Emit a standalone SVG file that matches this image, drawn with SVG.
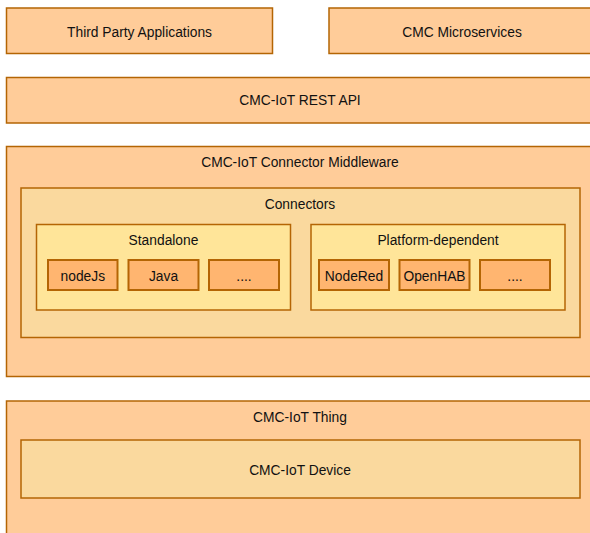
<svg xmlns="http://www.w3.org/2000/svg" width="590" height="533" viewBox="0 0 590 533">
<style>
.o{fill:#FFCC99;stroke:#B46504;stroke-width:1.5}
.c{fill:#FAD99E;stroke:#B46504;stroke-width:1.5}
.y{fill:#FFE599;stroke:#B46504;stroke-width:1.5}
.b{fill:#FFB570;stroke:#B46504;stroke-width:2}
text{font-family:"Liberation Sans",Arial,sans-serif;font-size:13.8px;fill:#111111;text-anchor:middle;dominant-baseline:central}
</style>
<rect width="590" height="533" fill="#ffffff"/>
<g id="third-party"><rect class="o" x="6.5" y="8" width="266" height="45.5"/><text x="139.5" y="32">Third Party Applications</text></g>
<g id="microservices"><rect class="o" x="329" y="8" width="270" height="45.5"/><text x="462" y="32">CMC Microservices</text></g>
<g id="rest-api"><rect class="o" x="6.5" y="77.5" width="600" height="45.5"/><text x="300" y="100.5">CMC-IoT REST API</text></g>
<g id="middleware"><rect class="o" x="6.5" y="146.5" width="600" height="230"/><text x="300" y="162.5">CMC-IoT Connector Middleware</text></g>
<g id="connectors"><rect class="c" x="21" y="188" width="559" height="149.5"/><text x="300" y="204">Connectors</text></g>
<g id="standalone"><rect class="y" x="36.5" y="224.5" width="254" height="85.5"/><text x="163.5" y="240">Standalone</text></g>
<g id="nodejs"><rect class="b" x="48" y="260" width="69.5" height="30"/><text x="82.8" y="276">nodeJs</text></g>
<g id="java"><rect class="b" x="128.5" y="260" width="70" height="30"/><text x="163.5" y="276">Java</text></g>
<g id="standalone-more"><rect class="b" x="209" y="260" width="70" height="30"/><text x="244" y="276">....</text></g>
<g id="platform"><rect class="y" x="311" y="224.5" width="254" height="85.5"/><text x="438" y="240">Platform-dependent</text></g>
<g id="nodered"><rect class="b" x="319" y="260" width="70" height="30"/><text x="354" y="276">NodeRed</text></g>
<g id="openhab"><rect class="b" x="399.5" y="260" width="70" height="30"/><text x="434.5" y="276">OpenHAB</text></g>
<g id="platform-more"><rect class="b" x="480" y="260" width="70" height="30"/><text x="515" y="276">....</text></g>
<g id="thing"><rect class="o" x="6.5" y="401" width="600" height="150"/><text x="300" y="417">CMC-IoT Thing</text></g>
<g id="device"><rect class="c" x="21" y="440" width="559" height="58"/><text x="300" y="470">CMC-IoT Device</text></g>
<g id="connectors-lines"></g>
</svg>
